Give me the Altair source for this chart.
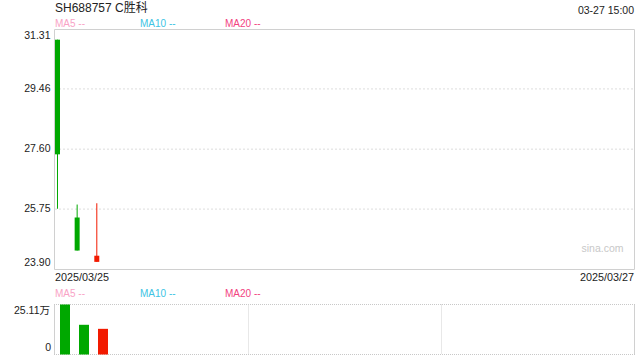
import altair as alt
import pandas as pd

# ---- data ----
dates = ["2025/03/25", "2025/03/26", "2025/03/27"]
opens = [30.98, 25.49, 24.12]
closes = [27.44, 24.47, 24.31]
highs = [30.98, 25.89, 25.93]
lows = [25.76, 24.47, 24.12]
volumes = [25.11, 14.92, 12.89]  # 万

price_ticks = [23.90, 25.75, 27.60, 29.46, 31.31]
grid_ticks = [25.75, 27.60, 29.46]
vol_tick_values = [0, 25.11]
vol_tick_labels = ["0", "25.11万"]

title_text = "SH688757 C胜科"
time_text = "03-27 15:00"
ma_labels = ["MA5 --", "MA10 --", "MA20 --"]
ma_colors = ["#f9a3c6", "#40c4e4", "#f2437f"]
watermark = "sina.com"
x_labels = ["2025/03/25", "2025/03/27"]

# ---- layout / style ----
W, H = 580, 326
FONT = "Liberation Sans, Arial, Noto Sans CJK SC, sans-serif"
GREEN = "#00a800"
RED = "#f21a00"
BORDER = "#d0d0d0"

df = pd.DataFrame({
    "i": list(range(len(dates))),
    "date": dates,
    "open": opens,
    "close": closes,
    "high": highs,
    "low": lows,
    "vol": volumes,
})
df["color"] = [RED if c >= o else GREEN for o, c in zip(opens, closes)]

px = alt.Scale(domain=[-0.178, 29.339], range=[0, W], padding=0, nice=False, zero=False)
vx = alt.Scale(domain=[-0.579, 29.947], range=[0, W], padding=0, nice=False, zero=False)
py = alt.Scale(domain=[23.90, 31.31], range=[240, 0], nice=False, zero=False)
vy = alt.Scale(domain=[0, 25.11], range=[325.5, 275.5], nice=False)

one = pd.DataFrame({"a": [0]})

# frames
top_frame = alt.Chart(one).mark_rect(fillOpacity=0, stroke=BORDER, strokeWidth=1).encode(
    x=alt.value(0.5), x2=alt.value(580.5), y=alt.value(0.5), y2=alt.value(240.5))

vol_left = alt.Chart(one).mark_rule(color=BORDER, strokeWidth=1).encode(
    x=alt.value(0.5), y=alt.value(275.5), y2=alt.value(325.5))
vol_right = alt.Chart(one).mark_rule(color=BORDER, strokeWidth=1).encode(
    x=alt.value(580.5), y=alt.value(275.5), y2=alt.value(325.5))
vol_top = alt.Chart(one).mark_rule(color="#c8c8c8", strokeWidth=1, strokeDash=[1, 1]).encode(
    x=alt.value(0), x2=alt.value(581), y=alt.value(275.5))
vol_bottom = alt.Chart(one).mark_rule(color="#c8c8c8", strokeWidth=1, strokeDash=[1, 1]).encode(
    x=alt.value(0), x2=alt.value(581), y=alt.value(325.5))
vol_v1 = alt.Chart(one).mark_rule(color="#d0d0d0", strokeWidth=1, strokeDash=[1, 1]).encode(
    x=alt.value(194.5), y=alt.value(275.5), y2=alt.value(325.5))
vol_v2 = alt.Chart(one).mark_rule(color="#d0d0d0", strokeWidth=1, strokeDash=[1, 1]).encode(
    x=alt.value(387.5), y=alt.value(275.5), y2=alt.value(325.5))

# price grid
grid = alt.Chart(pd.DataFrame({"v": grid_ticks})).mark_rule(
    color="#dddddd", strokeWidth=1, strokeDash=[2, 2]).encode(
    x=alt.value(1), x2=alt.value(580),
    y=alt.Y("v:Q", scale=py, axis=None))

# candles
wick = alt.Chart(df).mark_rule(strokeWidth=1).encode(
    x=alt.X("i:Q", scale=px, axis=None),
    y=alt.Y("low:Q", scale=py, axis=None),
    y2="high:Q",
    color=alt.Color("color:N", scale=None))
body = alt.Chart(df).mark_bar(size=5).encode(
    x=alt.X("i:Q", scale=px, axis=None),
    y=alt.Y("open:Q", scale=py, axis=None),
    y2="close:Q",
    color=alt.Color("color:N", scale=None))

# volume
vol = alt.Chart(df).mark_bar(size=10).encode(
    x=alt.X("i:Q", scale=vx, axis=None),
    y=alt.Y("vol:Q", scale=vy, axis=None),
    color=alt.Color("color:N", scale=None))

# price tick labels
pt = pd.DataFrame({"v": price_ticks, "label": [f"{t:.2f}" for t in price_ticks]})
lab_kw = dict(align="right", baseline="middle", fontSize=10.5, font=FONT, color="#222222")
pt_mid = alt.Chart(pt.iloc[1:-1]).mark_text(**lab_kw).encode(
    x=alt.value(-3.5), y=alt.Y("v:Q", scale=py, axis=None), text="label:N")
pt_top = alt.Chart(pt.iloc[[-1]]).mark_text(dy=6.5, **lab_kw).encode(
    x=alt.value(-3.5), y=alt.Y("v:Q", scale=py, axis=None), text="label:N")
pt_bot = alt.Chart(pt.iloc[[0]]).mark_text(dy=-6, **lab_kw).encode(
    x=alt.value(-3.5), y=alt.Y("v:Q", scale=py, axis=None), text="label:N")

vt = pd.DataFrame({"v": vol_tick_values, "label": vol_tick_labels})
vt_top = alt.Chart(vt.iloc[[1]]).mark_text(dy=6.7, **lab_kw).encode(
    x=alt.value(-4), y=alt.Y("v:Q", scale=vy, axis=None), text="label:N")
vt_bot = alt.Chart(vt.iloc[[0]]).mark_text(dy=-6.5, **lab_kw).encode(
    x=alt.value(-3), y=alt.Y("v:Q", scale=vy, axis=None), text="label:N")

# header texts
title = alt.Chart(one).mark_text(align="left", baseline="middle", fontSize=12, font=FONT,
                                 color="#222222", text=title_text).encode(
    x=alt.value(1), y=alt.value(-21.5))
timet = alt.Chart(one).mark_text(align="right", baseline="middle", fontSize=10.5, font=FONT,
                                 color="#222222", text=time_text).encode(
    x=alt.value(580), y=alt.value(-18))

ma_layers = []
for k, (lab, col) in enumerate(zip(ma_labels, ma_colors)):
    for yy in (-5, 264.5):
        ma_layers.append(
            alt.Chart(one).mark_text(align="left", baseline="middle", fontSize=10, font=FONT,
                                     color=col, text=lab).encode(
                x=alt.value(1 + 85 * k), y=alt.value(yy)))

xl_left = alt.Chart(one).mark_text(align="left", baseline="middle", fontSize=10.8, font=FONT,
                                   color="#222222", text=x_labels[0]).encode(
    x=alt.value(1), y=alt.value(248.5))
xl_right = alt.Chart(one).mark_text(align="right", baseline="middle", fontSize=10.8, font=FONT,
                                    color="#222222", text=x_labels[1]).encode(
    x=alt.value(580), y=alt.value(248.5))

wm = alt.Chart(one).mark_text(align="right", baseline="middle", fontSize=10.5, font=FONT,
                              color="#c8c8c8", text=watermark).encode(
    x=alt.value(569.5), y=alt.value(220))

chart = alt.layer(
    top_frame, grid, vol_left, vol_right, vol_top, vol_bottom, vol_v1, vol_v2,
    wick, body, vol,
    pt_mid, pt_top, pt_bot, vt_top, vt_bot,
    title, timet, *ma_layers, xl_left, xl_right, wm,
).resolve_scale(x="independent", y="independent").properties(
    width=W, height=H,
    autosize=alt.AutoSizeParams(type="none"),
    padding={"left": 54, "top": 29, "right": 6, "bottom": 5},
    background="white",
).configure_view(strokeWidth=0)

chart.save("out.html", embed_options={"renderer": "svg", "actions": False})
